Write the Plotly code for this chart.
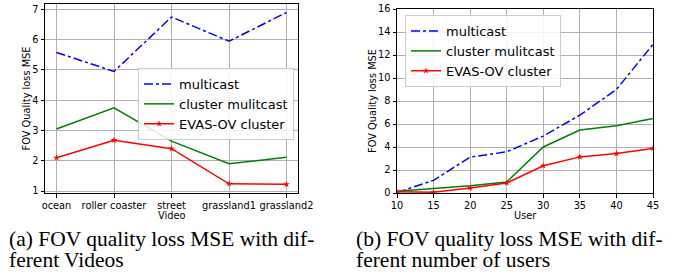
import plotly.graph_objects as go

videos = ["ocean", "roller coaster", "street", "grassland1", "grassland2"]
vid_multicast = [5.58, 4.95, 6.75, 5.95, 6.9]
vid_cluster = [3.05, 3.75, 2.65, 1.9, 2.12]
vid_evas = [2.1, 2.68, 2.4, 1.24, 1.22]

users = [10, 15, 20, 25, 30, 35, 40, 45]
usr_multicast = [0.05, 1.1, 3.12, 3.58, 4.95, 6.77, 9.0, 12.93]
usr_cluster = [0.15, 0.38, 0.62, 0.96, 4.0, 5.47, 5.84, 6.48]
usr_evas = [0.1, 0.07, 0.44, 0.87, 2.37, 3.14, 3.43, 3.87]

names = ["multicast", "cluster mulitcast", "EVAS-OV cluster"]
captions = [["(a) FOV quality loss MSE with dif-", "ferent Videos"],
            ["(b) FOV quality loss MSE with dif-", "ferent number of users"]]
x_titles = ["Video", "User"]
y_title = "FOV Quality loss MSE"

FONT = "DejaVu Sans"
fig = go.Figure()

def add(x, y, name, xa, ya, legend, kind):
    if kind == 0:
        line = dict(color="blue", width=1.5, dash="dashdot")
        mode = "lines"
        marker = None
    elif kind == 1:
        line = dict(color="green", width=1.5)
        mode = "lines"
        marker = None
    else:
        line = dict(color="red", width=1.5)
        mode = "lines+markers"
        marker = dict(symbol="star", size=5, color="red")
    fig.add_trace(go.Scatter(x=x, y=y, name=name, mode=mode, line=line,
                             marker=marker, xaxis=xa, yaxis=ya, legend=legend))

for i, ys in enumerate([vid_multicast, vid_cluster, vid_evas]):
    add(videos, ys, names[i], "x", "y", "legend", i)
for i, ys in enumerate([usr_multicast, usr_cluster, usr_evas]):
    add(users, ys, names[i], "x2", "y2", "legend2", i)

axis_common = dict(showline=True, linecolor="black", linewidth=1, mirror=True,
                   showgrid=True, gridcolor="#b0b0b0", gridwidth=1,
                   ticks="outside", ticklen=3.5, tickcolor="black", tickangle=0,
                   tickfont=dict(family=FONT, size=9.8, color="black"),
                   zeroline=False, automargin=False)

fig.update_layout(
    width=675, height=274,
    margin=dict(l=0, r=0, t=0, b=0),
    paper_bgcolor="white", plot_bgcolor="white",
    font=dict(family=FONT, color="black"),
    xaxis=dict(domain=[45/675, 298/675], anchor="y", range=[-0.2, 4.2],
               type="category", **axis_common),
    yaxis=dict(domain=[1-193/274, 1-4/274], anchor="x", range=[0.935, 7.18], dtick=1,
               **axis_common),
    xaxis2=dict(domain=[397/675, 653/675], anchor="y2", range=[10, 45], dtick=5,
                **axis_common),
    yaxis2=dict(domain=[1-193/274, 1-9/274], anchor="x2", range=[0, 16], dtick=2,
                **axis_common),
    legend=dict(x=138/675, y=1-68/274, xanchor="left", yanchor="top",
                bgcolor="rgba(255,255,255,0.85)", bordercolor="#cccccc", borderwidth=1,
                itemwidth=30,
                font=dict(family=FONT, size=13, color="black"), tracegroupgap=0),
    legend2=dict(x=405/675, y=1-15/274, xanchor="left", yanchor="top",
                 bgcolor="rgba(255,255,255,0.85)", bordercolor="#cccccc", borderwidth=1,
                 itemwidth=30,
                 font=dict(family=FONT, size=13, color="black"), tracegroupgap=0),
    showlegend=True,
)

# axis titles
for xc, txt in zip([171.5, 525], x_titles):
    fig.add_annotation(text=txt, x=xc/675, y=1-215/274, xref="paper", yref="paper",
                       xanchor="center", yanchor="middle", showarrow=False,
                       font=dict(family=FONT, size=9.8, color="black"))
for xc, yc in zip([26, 373], [98.5, 101]):
    fig.add_annotation(text=y_title, x=xc/675, y=1-yc/274, xref="paper", yref="paper",
                       xanchor="center", yanchor="middle", showarrow=False, textangle=-90,
                       font=dict(family=FONT, size=9.8, color="black"))

for xpos, lines in zip([8/675, 355/675], captions):
    for ymid, txt in zip([238.5, 259.5], lines):
        fig.add_annotation(text=txt, x=xpos, y=1-ymid/274, xref="paper", yref="paper",
                           xanchor="left", yanchor="middle", showarrow=False, align="left",
                           borderpad=0,
                           font=dict(family="Liberation Serif", size=21.5, color="black"))

fig.write_html("out.html", config={"displayModeBar": False},
               post_script="document.body.style.margin='0';document.body.style.overflow='hidden';")
